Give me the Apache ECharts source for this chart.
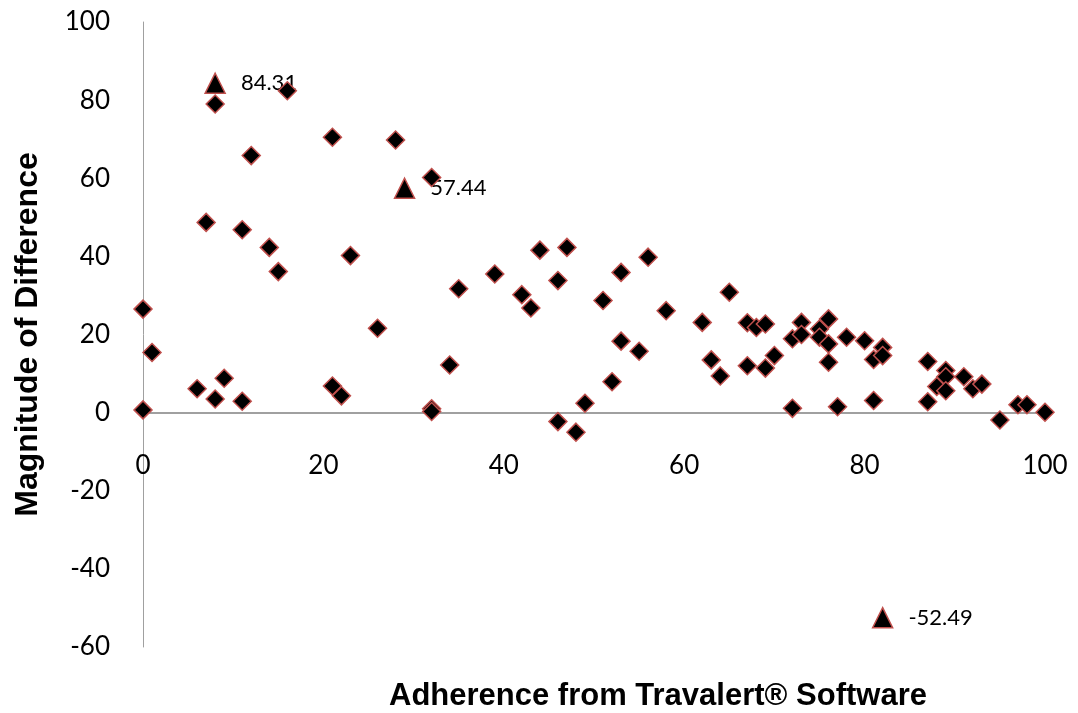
<!DOCTYPE html>
<html>
<head>
<meta charset="utf-8">
<script src="https://cdn.jsdelivr.net/npm/echarts@6/dist/echarts.min.js"></script>
<style>
  html, body { margin: 0; padding: 0; background: #fff; }
  #chart { width: 1078px; height: 713px; }
</style>
</head>
<body>
<div id="chart"></div>
<script>
// Adherence (%) reported by the software vs. magnitude of difference
const adherence = [
  8, 16, 21, 28, 12, 32, 7, 11, 14, 15, 23, 35,
  0, 1, 0, 6, 9, 8, 11, 26, 21, 22, 32, 32, 34,
  39, 44, 47, 42, 43, 46, 51, 53, 56, 58, 62, 65, 53, 55, 63, 64, 52, 49, 46, 48,
  67, 68, 69, 67, 69, 70, 72, 73, 73, 72, 75, 75, 76, 76, 76, 77, 78, 80, 81, 82, 82, 81,
  87, 87, 89, 89, 88, 89, 91, 92, 93, 95, 97, 98, 100
];
const difference = [
  79.0, 82.4, 70.5, 69.8, 65.8, 60.2, 48.7, 46.8, 42.3, 36.1, 40.2, 31.7,
  26.5, 15.4, 0.7, 6.1, 8.8, 3.5, 2.9, 21.6, 6.8, 4.3, 1.0, 0.3, 12.2,
  35.5, 41.6, 42.3, 30.2, 26.8, 33.8, 28.7, 35.9, 39.8, 26.1, 23.1, 30.8, 18.3, 15.7, 13.5, 9.4, 7.9, 2.4, -2.3, -5.0,
  23.0, 21.8, 22.7, 12.0, 11.4, 14.6, 18.9, 23.1, 20.0, 1.1, 21.4, 19.3, 24.0, 17.6, 12.9, 1.5, 19.3, 18.4, 13.6, 16.7, 14.6, 3.1,
  13.1, 2.8, 10.8, 9.2, 6.7, 5.6, 9.2, 6.1, 7.3, -1.9, 2.0, 2.0, 0.1
];

// Highlighted outliers, labelled with their value
const flaggedAdherence = [8, 29, 82];
const flaggedDifference = [84.31, 57.44, -52.49];

const xTicks = { min: 0, max: 100, interval: 20 };
const yTicks = { min: -60, max: 100, interval: 20 };

const tickFont = 'Lato, "Open Sans", sans-serif';
const titleFont = '"Liberation Sans", Arial, sans-serif';
const markerBorder = '#c0504d';
const axisGray = '#a0a0a0';

const chart = echarts.init(document.getElementById('chart'), null, { renderer: 'canvas' });

chart.setOption({
  animation: false,
  backgroundColor: '#ffffff',
  grid: { left: 143, right: 33, top: 22, bottom: 66, containLabel: false },
  xAxis: {
    type: 'value',
    min: xTicks.min, max: xTicks.max, interval: xTicks.interval,
    axisLine: { show: true, onZero: false, lineStyle: { color: axisGray, width: 2 } },
    axisTick: { show: false },
    splitLine: { show: false },
    axisLabel: { fontSize: 26, color: '#000', fontFamily: tickFont, margin: 40 }
  },
  yAxis: {
    type: 'value',
    min: yTicks.min, max: yTicks.max, interval: yTicks.interval,
    name: 'Magnitude of Difference',
    nameLocation: 'middle',
    nameRotate: 90,
    nameGap: 99,
    nameTextStyle: { fontSize: 32, fontWeight: 'bold', color: '#000', fontFamily: titleFont },
    axisLine: { show: true, onZero: false, lineStyle: { color: axisGray, width: 1 } },
    axisTick: { show: false },
    splitLine: { show: false },
    axisLabel: { fontSize: 26, color: '#000', fontFamily: tickFont, margin: 33 }
  },
  graphic: [{
    type: 'text',
    left: 389,
    top: 681,
    style: {
      text: 'Adherence from Travalert® Software',
      font: 'bold 31px ' + titleFont,
      fill: '#000'
    }
  }],
  series: [
    {
      name: 'flagged',
      type: 'scatter',
      z: 2,
      symbol: 'triangle',
      symbolSize: 20,
      data: flaggedAdherence.map((x, i) => [x, flaggedDifference[i]]),
      itemStyle: { color: '#000', opacity: 1, borderColor: markerBorder, borderWidth: 1.5 },
      label: {
        show: true,
        position: 'right',
        distance: 15,
        fontSize: 22,
        color: '#000',
        fontFamily: tickFont,
        formatter: p => p.value[1].toFixed(2)
      }
    },
    {
      name: 'difference',
      type: 'scatter',
      z: 3,
      symbol: 'diamond',
      symbolSize: 18,
      data: adherence.map((x, i) => [x, difference[i]]),
      itemStyle: { color: '#000', opacity: 1, borderColor: markerBorder, borderWidth: 1.5 }
    }
  ]
});

// Lift the horizontal axis (line and labels) up to the y = 0 line
const zeroY = chart.convertToPixel({ yAxisIndex: 0 }, 0);
const bottomY = chart.convertToPixel({ yAxisIndex: 0 }, yTicks.min);
chart.setOption({ xAxis: { offset: zeroY - bottomY } });
</script>
</body>
</html>
